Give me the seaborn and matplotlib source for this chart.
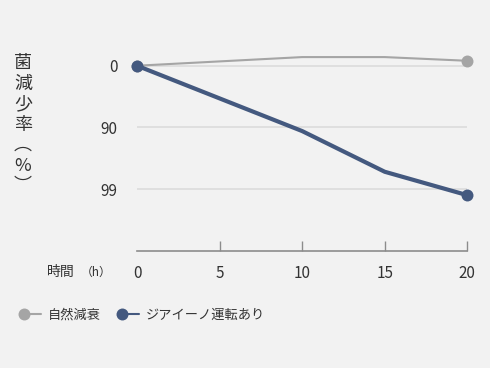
import numpy as np
import pandas as pd
import matplotlib
matplotlib.use("Agg")
import matplotlib.pyplot as plt
import seaborn as sns
from matplotlib.lines import Line2D
from matplotlib.legend_handler import HandlerLine2DCompound

# data (y = log reduction: 0 -> 0%, 1 -> 90%, 2 -> 99%)
hours = [0, 10, 15, 20]
natural = [0.0, -0.14, -0.14, -0.08]
ziaino = [0.0, 1.06, 1.72, 2.10]
series_names = ["自然減衰", "ジアイーノ運転あり"]
series_colors = ["#a5a5a5", "#44597f"]
ytick_pos = [0, 1, 2]
ytick_labels = ["0", "90", "99"]
xticks = [0, 5, 10, 15, 20]

df = pd.DataFrame({
    "hour": hours * 2,
    "value": natural + ziaino,
    "series": [series_names[0]] * len(hours) + [series_names[1]] * len(hours),
})

sns.set_theme(style="white")
plt.rcParams["font.family"] = ["Noto Sans CJK JP", "DejaVu Sans"]
text_color = "#333333"

fig = plt.figure(figsize=(4.9, 3.68), dpi=100)
fig.patch.set_facecolor("#f2f2f2")
ax = fig.add_axes([0.2796, 0.3188, 0.6741, 0.5445])
ax.set_facecolor("#f2f2f2")

for y in ytick_pos:
    ax.axhline(y, color="#dedede", lw=1.3, zorder=0)

widths = [1.5, 3.0]
for name, color, lw in zip(series_names, series_colors, widths):
    sub = df[df["series"] == name]
    sns.lineplot(data=sub, x="hour", y="value", ax=ax, color=color, lw=lw,
                 marker="o", markersize=8.6, markeredgewidth=0,
                 markevery=[0, len(sub) - 1], clip_on=False, legend=False,
                 zorder=3 if name == series_names[1] else 2)

ax.set_xlim(0, 20)
ax.set_ylim(3, -0.25)
ax.set_xticks(xticks)
ax.set_yticks(ytick_pos)
ax.set_yticklabels(ytick_labels)
ax.set_xlabel("")
ax.set_ylabel("")
for s in ["top", "right", "left"]:
    ax.spines[s].set_visible(False)
ax.spines["bottom"].set_color("#8c8c8c")
ax.spines["bottom"].set_linewidth(1.2)
ax.tick_params(axis="x", direction="in", length=7, width=1, color="#8c8c8c",
               pad=10, labelsize=11, labelcolor=text_color, bottom=True)
ax.tick_params(axis="y", length=0, pad=14, labelsize=11, labelcolor=text_color)
ax.xaxis.get_major_ticks()[0].tick1line.set_visible(False)

# axis titles
fig.text(0.047, 1 - 54 / 368, "菌\n減\n少\n率\n︵\n%\n︶", ha="center", va="top",
         fontsize=13, color=text_color, linespacing=1.18)
fig.text(47 / 490, 1 - 272 / 368, "時間", ha="left", va="center",
         fontsize=10, color=text_color)
fig.text(81 / 490, 1 - 272 / 368, "（h）", ha="left", va="center",
         fontsize=8.5, color=text_color)


class MarkerLeft(HandlerLine2DCompound):
    # marker sits at the left end of the short legend line
    def get_xdata(self, legend, xdescent, ydescent, width, height, fontsize):
        xdata = np.array([-xdescent, -xdescent + width])
        return xdata, xdata[:1]


handles = [Line2D([], [], color=c, lw=1.5, marker="o", markersize=8.6,
                  markeredgewidth=0) for c in series_colors]
fig.legend(handles, series_names, loc="center left",
           bbox_to_anchor=(24 / 490, 1 - 315 / 368), ncol=2, frameon=False,
           borderaxespad=0, borderpad=0,
           fontsize=9.5, handlelength=1.3, handletextpad=0.5, columnspacing=1.6,
           labelcolor=text_color,
           handler_map={Line2D: MarkerLeft()})

fig.savefig("out.png", dpi=100, facecolor=fig.get_facecolor())
